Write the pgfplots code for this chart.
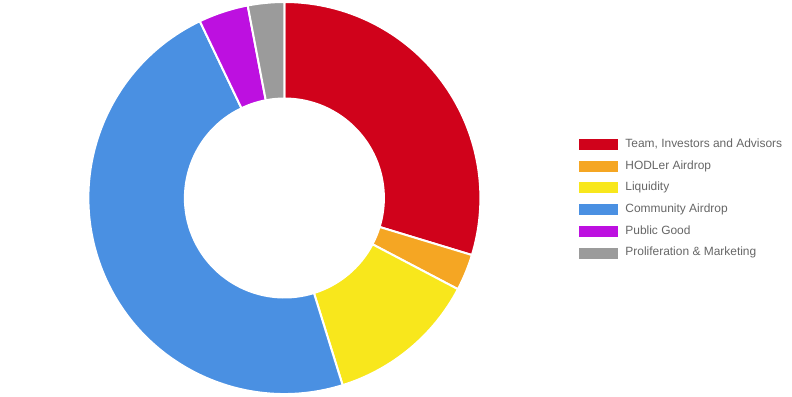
\documentclass[border=0pt]{standalone}
\usepackage{pgfplots}
\usepackage{pgfplotstable}
\pgfplotsset{compat=1.18}
\usepackage{fontspec}
\setmainfont{Liberation Sans}
\definecolor{cTeam}{HTML}{D0021B}
\definecolor{cHodl}{HTML}{F5A623}
\definecolor{cLiq}{HTML}{F8E71C}
\definecolor{cComm}{HTML}{4A90E2}
\definecolor{cPub}{HTML}{BD10E0}
\definecolor{cProl}{HTML}{9B9B9B}
\definecolor{legtext}{HTML}{666666}

% share of each slice (percent), drawn clockwise from 12 o'clock
\pgfplotstableread{
value col
29.7 cTeam
3.0  cHodl
12.5 cLiq
47.7 cComm
4.1  cPub
3.0  cProl
}\shares

\begin{document}
\begin{tikzpicture}
\begin{axis}[
  x=1bp, y=1bp, xmin=0, xmax=792, ymin=0, ymax=396,
  hide axis, clip=false,
  legend image code/.code={\fill[#1] (0bp,-5bp) rectangle (38bp,5bp);},
  legend cell align=left,
  legend style={at={(axis cs:579,262.6)}, anchor=north west, draw=none, fill=none,
    inner sep=0pt, outer sep=0pt, row sep=0pt,
    font=\fontsize{12}{14}\selectfont, text=legtext,
    nodes={inner sep=0pt, text height=14bp, text depth=7.7bp},
    /tikz/every odd column/.append style={column sep=8bp}},
]
\coordinate (frameSW) at (axis cs:0,0);
\coordinate (frameNE) at (axis cs:792,396);
\pgfplotstablegetrowsof{\shares}
\pgfmathtruncatemacro\lastrow{\pgfplotsretval-1}
\gdef\cum{0}
\pgfplotsinvokeforeach{0,...,\lastrow}{%
  \pgfplotstablegetelem{#1}{value}\of\shares \let\val\pgfplotsretval
  \pgfplotstablegetelem{#1}{col}\of\shares \let\slicecol\pgfplotsretval
  \pgfmathsetmacro\aS{90-3.6*\cum}%
  \pgfmathsetmacro\aE{90-3.6*(\cum+\val)}%
  \pgfmathsetmacro\newcum{\cum+\val}\global\let\cum\newcum
  \edef\doslice{\noexpand\filldraw[fill=\slicecol, draw=white, line width=2bp]
    (axis cs:{284.4+196*cos(\aS)},{198+196*sin(\aS)})
    arc[start angle=\aS, end angle=\aE, radius=196]
    -- (axis cs:{284.4+99.5*cos(\aE)},{198+99.5*sin(\aE)})
    arc[start angle=\aE, end angle=\aS, radius=99.5] -- cycle;}%
  \doslice
}
\addlegendimage{cTeam}\addlegendentry{Team, Investors and Advisors}
\addlegendimage{cHodl}\addlegendentry{HODLer Airdrop}
\addlegendimage{cLiq}\addlegendentry{Liquidity}
\addlegendimage{cComm}\addlegendentry{Community Airdrop}
\addlegendimage{cPub}\addlegendentry{Public Good}
\addlegendimage{cProl}\addlegendentry{Proliferation \& Marketing}
\end{axis}
\pgfresetboundingbox
\path (frameSW) rectangle (frameNE);
\end{tikzpicture}
\end{document}
